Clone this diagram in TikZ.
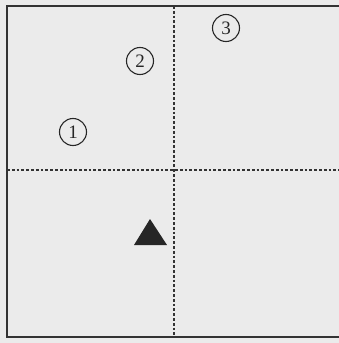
\documentclass[tikz,border=0pt]{standalone}
\usepackage{fontspec}
\setmainfont{Liberation Serif}
\begin{document}
\begin{tikzpicture}[x=1pt,y=-1pt,
  frame/.style={line width=2.2pt,draw=black!80},
  grid/.style={line width=1.6pt,draw=black!80,dash pattern=on 2.8pt off 2pt},
  num/.style={circle,draw=black!85,line width=1.1pt,minimum size=27pt,inner sep=0pt,font=\fontsize{19}{19}\selectfont,text=black!85}]
\useasboundingbox[fill=black!8] (0,0) rectangle (339,343);
\coordinate (tl) at (7,6);
\coordinate (tr) at (339,6);
\coordinate (bl) at (7,337);
\coordinate (br) at (339,337);
\coordinate (vt) at (174,6);
\coordinate (vb) at (174,337);
\coordinate (hl) at (7,170);
\coordinate (hr) at (339,170);
\draw[grid] (vt) -- (vb);
\draw[grid] (hl) -- (hr);
\draw[frame] (tr) -- (tl) -- (bl) -- (br);
\node[num] (n1) at (73,132) {1};
\node[num] (n2) at (140,61) {2};
\node[num] (n3) at (226,28) {3};
\fill[black!85] (150,219) coordinate (tri) -- (134,245) -- (167,245) -- cycle;
\end{tikzpicture}
\end{document}
